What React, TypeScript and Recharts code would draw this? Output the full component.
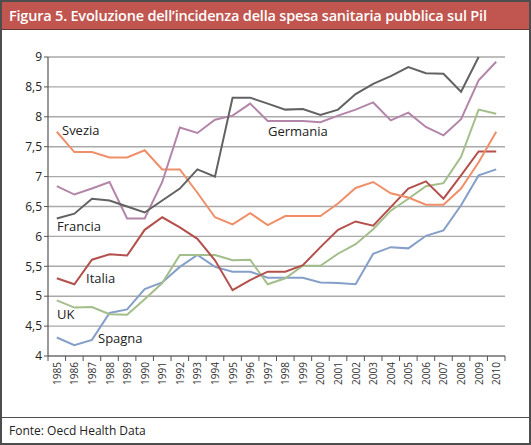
import { LineChart, Line, XAxis, YAxis, CartesianGrid } from "recharts";

const years = [
  1985, 1986, 1987, 1988, 1989, 1990, 1991, 1992, 1993, 1994, 1995, 1996, 1997,
  1998, 1999, 2000, 2001, 2002, 2003, 2004, 2005, 2006, 2007, 2008, 2009, 2010,
];
const germania = [
  6.3, 6.38, 6.63, 6.6, 6.5, 6.4, 6.6, 6.8, 7.12, 7.0, 8.32, 8.32, 8.22, 8.12,
  8.13, 8.03, 8.12, 8.38, 8.55, 8.68, 8.83, 8.73, 8.72, 8.42, 9.0, null,
];
const francia = [
  6.84, 6.7, 6.8, 6.91, 6.3, 6.3, 6.91, 7.82, 7.73, 7.95, 8.02, 8.22, 7.93,
  7.93, 7.93, 7.91, 8.02, 8.12, 8.24, 7.94, 8.07, 7.83, 7.69, 7.96, 8.61, 8.92,
];
const svezia = [
  7.75, 7.41, 7.41, 7.32, 7.32, 7.44, 7.12, 7.12, 6.73, 6.32, 6.2, 6.39, 6.19,
  6.34, 6.34, 6.34, 6.55, 6.81, 6.91, 6.72, 6.65, 6.53, 6.53, 6.8, 7.24, 7.75,
];
const italia = [
  5.3, 5.2, 5.61, 5.7, 5.68, 6.11, 6.32, 6.15, 5.96, 5.6, 5.1, 5.27, 5.41, 5.41,
  5.52, 5.82, 6.11, 6.25, 6.18, 6.49, 6.8, 6.92, 6.63, 7.02, 7.42, 7.42,
];
const uk = [
  4.93, 4.81, 4.82, 4.7, 4.69, 4.95, 5.22, 5.69, 5.69, 5.69, 5.6, 5.61, 5.2,
  5.3, 5.51, 5.51, 5.71, 5.87, 6.12, 6.43, 6.63, 6.84, 6.89, 7.33, 8.12, 8.05,
];
const spagna = [
  4.31, 4.18, 4.27, 4.72, 4.78, 5.12, 5.23, 5.49, 5.69, 5.49, 5.41, 5.41, 5.31,
  5.31, 5.31, 5.23, 5.22, 5.2, 5.71, 5.82, 5.8, 6.01, 6.1, 6.52, 7.02, 7.12,
];
const yTicks = [4, 4.5, 5, 5.5, 6, 6.5, 7, 7.5, 8, 8.5, 9];

const data = years.map((year, i) => ({
  year,
  germania: germania[i],
  francia: francia[i],
  svezia: svezia[i],
  italia: italia[i],
  uk: uk[i],
  spagna: spagna[i],
}));

const FONT = "'Open Sans', 'Noto Sans', sans-serif";
const PLOT_LEFT = 48;
const PLOT_RIGHT = 505;
const STEP = (PLOT_RIGHT - PLOT_LEFT) / years.length;

function YearTick(props: any) {
  const { x, y, payload, index } = props;
  const ty = y + 6;
  return (
    <g>
      <line x1={x - STEP / 2} x2={x - STEP / 2} y1={y} y2={y + 5} stroke="#555" />
      {index === years.length - 1 && (
        <line x1={x + STEP / 2} x2={x + STEP / 2} y1={y} y2={y + 5} stroke="#555" />
      )}
      <text
        x={x}
        y={ty}
        transform={`rotate(-90 ${x} ${ty})`}
        textAnchor="end"
        dominantBaseline="central"
        fontSize={10}
        fontFamily={FONT}
        fill="#333"
      >
        {payload.value}
      </text>
    </g>
  );
}

const labels = [
  { text: "Svezia", x: 62, y: 135 },
  { text: "Germania", x: 268, y: 136 },
  { text: "Francia", x: 57, y: 231 },
  { text: "Italia", x: 86, y: 283 },
  { text: "UK", x: 57, y: 319 },
  { text: "Spagna", x: 98, y: 343 },
];

export default function App() {
  return (
    <div
      style={{
        position: "absolute",
        left: 0,
        top: 0,
        width: 531,
        height: 445,
        background: "#fff",
        fontFamily: FONT,
        overflow: "hidden",
      }}
    >
      <div
        style={{
          position: "absolute",
          left: 0,
          top: 0,
          width: 531,
          height: 30,
          background: "#c0564f",
          borderBottom: "1px solid #6a3431",
          boxSizing: "border-box",
          color: "#fff",
          fontWeight: 600,
          fontSize: 14.5,
          lineHeight: "31px",
          paddingLeft: 9,
          whiteSpace: "nowrap",
          letterSpacing: -0.2,
        }}
      >
        Figura 5. Evoluzione dell’incidenza della spesa sanitaria pubblica sul Pil
      </div>
      <div style={{ position: "absolute", left: 0, top: 30 }}>
        <LineChart
          width={531}
          height={387}
          data={data}
          margin={{ top: 27, right: 26, left: 0, bottom: 21 }}
        >
          <CartesianGrid vertical={false} stroke="#a9a9a9" strokeWidth={1.4} />
          <XAxis
            dataKey="year"
            type="number"
            domain={[1984.5, 2010.5]}
            ticks={years}
            interval={0}
            allowDataOverflow
            height={40}
            tickSize={0}
            tickMargin={0}
            axisLine={{ stroke: "#666", strokeWidth: 1.2 }}
            tick={<YearTick />}
          />
          <YAxis
            domain={[4, 9]}
            ticks={yTicks}
            interval={0}
            width={48}
            tickSize={4}
            tickMargin={2}
            axisLine={{ stroke: "#555", strokeWidth: 1.2 }}
            tickLine={{ stroke: "#555" }}
            tick={{ fontSize: 12, fill: "#222", fontFamily: FONT }}
            tickFormatter={(v: number) => String(v).replace(".", ",")}
          />
          <Line dataKey="spagna" stroke="#859fc8" strokeWidth={2} dot={false} isAnimationActive={false} />
          <Line dataKey="uk" stroke="#a3bd8b" strokeWidth={2} dot={false} isAnimationActive={false} />
          <Line dataKey="italia" stroke="#b4504b" strokeWidth={2} dot={false} isAnimationActive={false} />
          <Line dataKey="svezia" stroke="#ef8f69" strokeWidth={2} dot={false} isAnimationActive={false} />
          <Line dataKey="francia" stroke="#b385a9" strokeWidth={2} dot={false} isAnimationActive={false} />
          <Line dataKey="germania" stroke="#626262" strokeWidth={2} dot={false} isAnimationActive={false} />
        </LineChart>
      </div>
      <svg
        width={531}
        height={445}
        style={{ position: "absolute", left: 0, top: 0, pointerEvents: "none" }}
      >
        {labels.map((l) => (
          <text key={l.text} x={l.x} y={l.y} fontSize={13} fontFamily={FONT} fill="#222">
            {l.text}
          </text>
        ))}
      </svg>
      <div
        style={{
          position: "absolute",
          left: 0,
          top: 417,
          width: 531,
          height: 28,
          borderTop: "1.5px solid #4d4d4d",
          boxSizing: "border-box",
          fontSize: 12,
          lineHeight: "26px",
          paddingLeft: 9,
          color: "#222",
        }}
      >
        Fonte: Oecd Health Data
      </div>
      <div
        style={{
          position: "absolute",
          left: 0,
          top: 0,
          width: 531,
          height: 445,
          border: "2px solid #4d4d4d",
          boxSizing: "border-box",
          pointerEvents: "none",
        }}
      />
    </div>
  );
}
